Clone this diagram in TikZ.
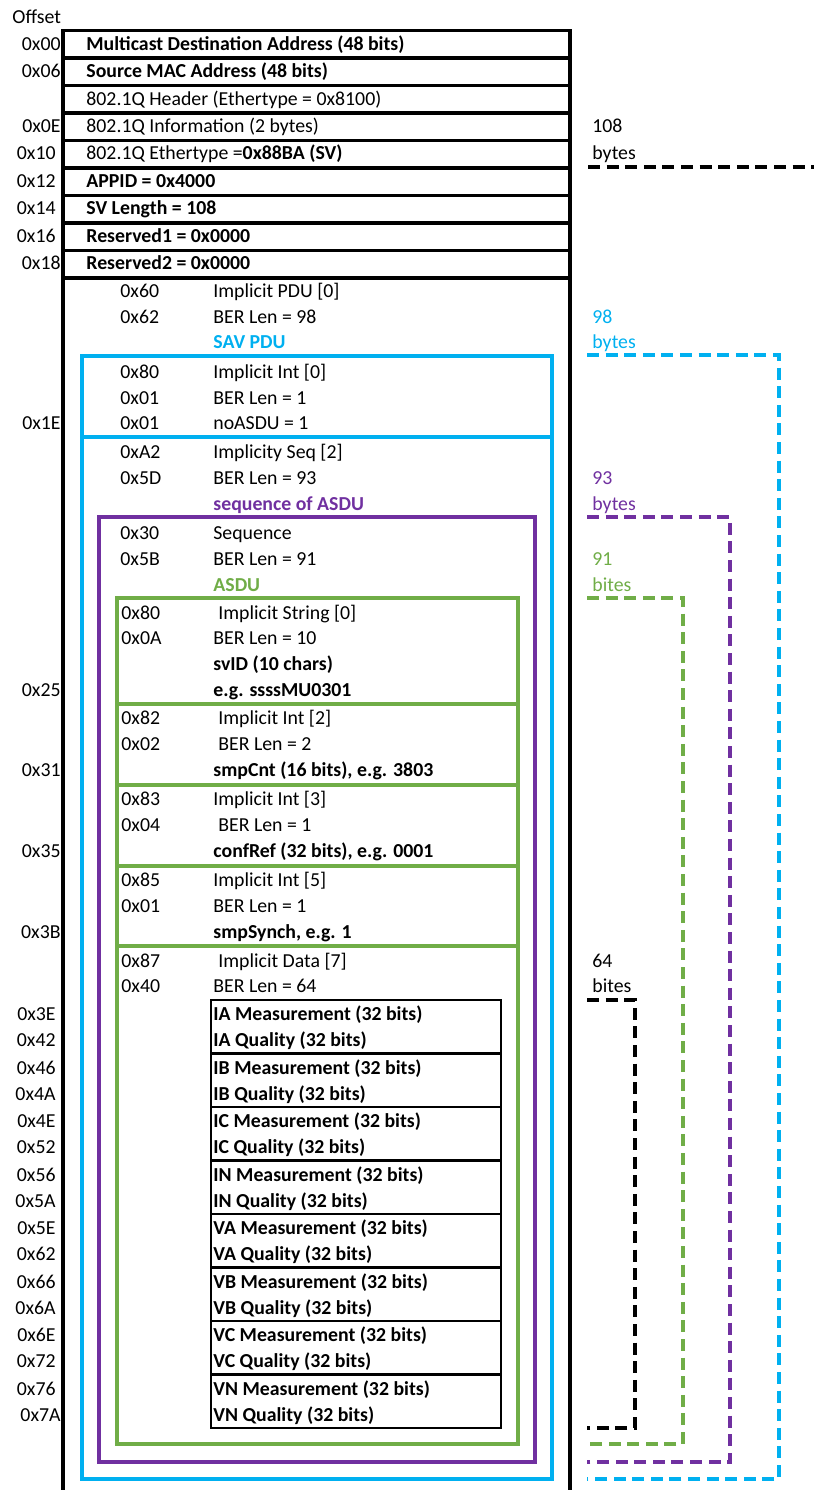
\documentclass[tikz,border=0pt]{standalone}
\usepackage{fontspec}
\setmainfont{Carlito}
\begin{document}
\begin{tikzpicture}[x=0.5pt,y=-0.5pt,
  txt/.style={inner sep=0pt, anchor=west, text height=0.8em, text depth=0.12em,
              font=\fontsize{9.9}{11}\selectfont},
  bld/.style={txt, font=\fontsize{9.9}{11}\selectfont\bfseries},
  off/.style={txt, anchor=east},
  frame/.style={draw=black, line width=1.6pt},
  cell/.style={draw=black, line width=1.3pt},
  savbox/.style={draw=savblue, line width=2.3pt},
  seqbox/.style={draw=seqpurple, line width=2.1pt},
  asdubox/.style={draw=asdugreen, line width=2.1pt},
  span/.style={line width=1.6pt, dash pattern=on 6pt off 3.3pt},
]
\definecolor{savblue}{HTML}{00B0F0}
\definecolor{seqpurple}{HTML}{7030A0}
\definecolor{asdugreen}{HTML}{70AD47}

\useasboundingbox (0,0) rectangle (814,1490);

% ---------- heading ----------
\node[txt] (hdr) at (12,17) {Offset};

% ---------- Ethernet / SV header rows ----------
\foreach \t in {30.5,58,85.5,113,140.5,168,195.5,223,250.5}
  \draw[frame] (63,\t) rectangle (570,\t+27.4);

\node[bld] (r1) at (86,44)  {Multicast Destination Address (48 bits)};
\node[bld] (r2) at (86,71)  {Source MAC Address (48 bits)};
\node[txt] (r3) at (86,99)  {802.1Q Header (Ethertype = 0x8100)};
\node[txt] (r4) at (86,126) {802.1Q Information (2 bytes)};
\node[txt] (r5) at (86,153) {802.1Q Ethertype =\textbf{0x88BA (SV)}};
\node[bld] (r6) at (86,181) {APPID = 0x4000};
\node[bld] (r7) at (86,208) {SV Length = 108};
\node[bld] (r8) at (86,236) {Reserved1 = 0x0000};
\node[bld] (r9) at (86,263) {Reserved2 = 0x0000};

\node[off] (o00) at (61,44)  {0x00};
\node[off] (o06) at (61,71)  {0x06};
\node[off] (o0E) at (61,126) {0x0E};
\node[off] (o10) at (56,153) {0x10};
\node[off] (o12) at (56,181) {0x12};
\node[off] (o14) at (56,208) {0x14};
\node[off] (o16) at (56,236) {0x16};
\node[off] (o18) at (61,263) {0x18};

% ---------- APDU frame ----------
\draw[frame] (63,277.9) -- (63,1490);
\draw[frame] (570,277.9) -- (570,1490);

\node[txt] (t60) at (120,291) {0x60};
\node[txt] (d60) at (213,291) {Implicit PDU [0]};
\node[txt] (t62) at (120,317) {0x62};
\node[txt] (d62) at (213,317) {BER Len = 98};
\node[bld, text=savblue] (lsav) at (213,342) {SAV PDU};

% ---------- SAV PDU ----------
\draw[savbox] (82,356) rectangle (552,1479);
\draw[savbox] (82,437) -- (552,437);

\node[txt] (t80a) at (120,372) {0x80};
\node[txt] (d80a) at (213,372) {Implicit Int [0]};
\node[txt] (t01a) at (120,398) {0x01};
\node[txt] (d01a) at (213,398) {BER Len = 1};
\node[txt] (t01b) at (120,423) {0x01};
\node[txt] (d01b) at (213,423) {noASDU = 1};
\node[off] (o1E) at (61,423) {0x1E};

\node[txt] (tA2) at (120,452) {0xA2};
\node[txt] (dA2) at (213,452) {Implicity Seq [2]};
\node[txt] (t5D) at (120,478) {0x5D};
\node[txt] (d5D) at (213,478) {BER Len = 93};
\node[bld, text=seqpurple] (lseq) at (213,504) {sequence of ASDU};

% ---------- sequence of ASDU ----------
\draw[seqbox] (99,517) rectangle (535,1462);

\node[txt] (t30) at (120,533) {0x30};
\node[txt] (d30) at (213,533) {Sequence};
\node[txt] (t5B) at (120,559) {0x5B};
\node[txt] (d5B) at (213,559) {BER Len = 91};
\node[bld, text=asdugreen] (lasdu) at (213,585) {ASDU};

% ---------- ASDU ----------
\draw[asdubox] (117,598) rectangle (518,704);
\draw[asdubox] (117,704) rectangle (518,785);
\draw[asdubox] (117,785) rectangle (518,866);
\draw[asdubox] (117,866) rectangle (518,946);
\draw[asdubox] (117,946) rectangle (518,1444);

\node[txt] (t80b) at (121,613) {0x80};
\node[txt] (d80b) at (218,613) {Implicit String [0]};
\node[txt] (t0A)  at (121,638) {0x0A};
\node[txt] (d0A)  at (213,638) {BER Len = 10};
\node[bld] (svid) at (213,664) {svID (10 chars)};
\node[bld] (svex) at (213,690) {e.g. ssssMU0301};
\node[off] (o25)  at (61,690) {0x25};

\node[txt] (t82) at (121,718) {0x82};
\node[txt] (d82) at (218,718) {Implicit Int [2]};
\node[txt] (t02) at (121,744) {0x02};
\node[txt] (d02) at (218,744) {BER Len = 2};
\node[bld] (cnt) at (213,770) {smpCnt (16 bits), e.g. 3803};
\node[off] (o31) at (61,770) {0x31};

\node[txt] (t83) at (121,799) {0x83};
\node[txt] (d83) at (213,799) {Implicit Int [3]};
\node[txt] (t04) at (121,825) {0x04};
\node[txt] (d04) at (218,825) {BER Len = 1};
\node[bld] (cref) at (213,851) {confRef (32 bits), e.g. 0001};
\node[off] (o35) at (61,851) {0x35};

\node[txt] (t85) at (121,880) {0x85};
\node[txt] (d85) at (213,880) {Implicit Int [5]};
\node[txt] (t01c) at (121,906) {0x01};
\node[txt] (d01c) at (213,906) {BER Len = 1};
\node[bld] (sync) at (213,932) {smpSynch, e.g. 1};
\node[off] (o3B) at (61,932) {0x3B};

\node[txt] (t87) at (121,961) {0x87};
\node[txt] (d87) at (218,961) {Implicit Data [7]};
\node[txt] (t40) at (121,986) {0x40};
\node[txt] (d40) at (213,986) {BER Len = 64};

% ---------- measurement data set ----------
\foreach \i/\ch/\om/\oq/\xm/\xq in {0/IA/0x3E/0x42/56/56, 1/IB/0x46/0x4A/56/56,
    2/IC/0x4E/0x52/56/56, 3/IN/0x56/0x5A/56/56, 4/VA/0x5E/0x62/56/56,
    5/VB/0x66/0x6A/56/56, 6/VC/0x6E/0x72/56/56, 7/VN/0x76/0x7A/56/61} {
  \pgfmathsetmacro{\top}{1000+53.5*\i}
  \draw[cell] (211,\top) rectangle (501,\top+53.5);
  \node[bld] (m\ch) at (213,\top+14) {\ch\ Measurement (32 bits)};
  \node[bld] (q\ch) at (213,\top+40) {\ch\ Quality (32 bits)};
  \node[off] (om\ch) at (\xm,\top+14) {\om};
  \node[off] (oq\ch) at (\xq,\top+40) {\oq};
}

% ---------- length annotations ----------
\node[txt] (n108) at (592,126) {108};
\node[txt] (u108) at (592,153) {bytes};
\node[txt, text=savblue] (n98) at (592,317) {98};
\node[txt, text=savblue] (u98) at (592,342) {bytes};
\node[txt, text=seqpurple] (n93) at (592,478) {93};
\node[txt, text=seqpurple] (u93) at (592,504) {bytes};
\node[txt, text=asdugreen] (n91) at (592,559) {91};
\node[txt, text=asdugreen] (u91) at (592,585) {bites};
\node[txt] (n64) at (592,961) {64};
\node[txt] (u64) at (592,986) {bites};

\coordinate (a108) at (588,167);
\coordinate (b108) at (814,167);
\coordinate (a98) at (587,355);
\coordinate (c98) at (779,1479);
\coordinate (b98) at (587,1479);
\coordinate (a93) at (587,517);
\coordinate (c93) at (730,1462);
\coordinate (b93) at (587,1462);
\coordinate (a91) at (587,598);
\coordinate (c91) at (683,1444);
\coordinate (b91) at (587,1444);
\coordinate (a64) at (587,1000);
\coordinate (c64) at (635,1428);
\coordinate (b64) at (587,1428);

\draw[span, black] (a108) -- (b108);
\draw[span, savblue] (a98) -| (c98) -- (b98);
\draw[span, seqpurple] (a93) -| (c93) -- (b93);
\draw[span, asdugreen] (a91) -| (c91) -- (b91);
\draw[span, black] (a64) -| (c64) -- (b64);
\end{tikzpicture}
\end{document}
